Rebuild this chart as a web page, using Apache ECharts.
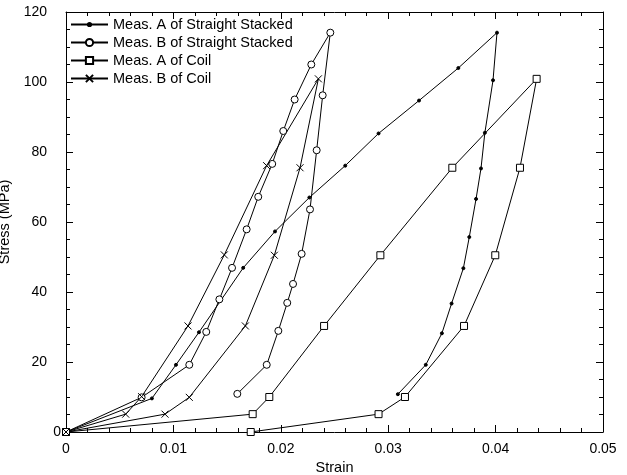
<!DOCTYPE html>
<html lang="en">
  <head>
    <meta charset="UTF-8" />
    <title>Stress vs Strain</title>
    <script src="https://cdn.jsdelivr.net/npm/echarts@6.0.0/dist/echarts.min.js"></script>
  </head>
  <body style="margin: 0">
    <div id="main" style="width: 627px; height: 475px"></div>
    <script type="text/javascript">
      // values
      const seriesNames = [
        "Meas. A of Straight Stacked",
        "Meas. B of Straight Stacked",
        "Meas. A of Coil",
        "Meas. B of Coil",
      ];

      const strainStraightA = [0, 0.008, 0.01024, 0.01238, 0.0165, 0.01946, 0.02266, 0.026, 0.0291, 0.03287, 0.03653, 0.04013,
        0.03976, 0.039, 0.03864, 0.03818, 0.03755, 0.037, 0.0359, 0.035, 0.0335, 0.0309];
      const stressStraightA = [0, 9.6, 19.2, 28.5, 46.9, 57.3, 67, 76.1, 85.3, 94.7, 104, 114.1,
        100.5, 85.5, 75.3, 66.6, 55.7, 46.8, 36.7, 28.2, 19.2, 10.8];

      const strainStraightB = [0, 0.00704, 0.01148, 0.01306, 0.01428, 0.01546, 0.01682, 0.0179, 0.0192, 0.02023, 0.02129, 0.02284, 0.02461,
        0.0239, 0.02334, 0.02272, 0.02194, 0.02114, 0.0206, 0.01977, 0.01869, 0.01595];
      const stressStraightB = [0, 9.9, 19.2, 28.6, 37.9, 46.9, 57.9, 67.2, 76.6, 86, 95, 105, 114.1,
        96.2, 80.5, 63.6, 50.9, 42.3, 36.9, 28.9, 19.2, 10.9];

      const strainCoilA = [0, 0.01738, 0.01893, 0.02403, 0.02927, 0.03597, 0.04382,
        0.04227, 0.03997, 0.03706, 0.03156, 0.0291, 0.0172];
      const stressCoilA = [0, 5.1, 10, 30.3, 50.5, 75.5, 100.9,
        75.5, 50.5, 30.3, 10, 5.1, 0];

      const strainCoilB = [0, 0.00556, 0.00704, 0.01136, 0.01474, 0.01868, 0.0235,
        0.02179, 0.0194, 0.0167, 0.01148, 0.00922, 0];
      const stressCoilB = [0, 5.1, 10.1, 30.3, 50.6, 76.1, 100.9,
        75.5, 50.5, 30.3, 9.9, 5.1, 0];

      const xTicks = [0, 0.01, 0.02, 0.03, 0.04, 0.05];
      const yTicks = [0, 20, 40, 60, 80, 100, 120];

      const font = "Liberation Sans";
      const pairs = (xs, ys) => xs.map((x, i) => [x, ys[i]]);
      const crossPath = "path://M0,0L10,10M10,0L0,10";

      let myChart = echarts.init(document.getElementById("main"));

      const tickStyle = { color: "#000", width: 1 };

      const xAxisBase = {
        type: "value",
        min: xTicks[0],
        max: xTicks[xTicks.length - 1],
        interval: 0.01,
        axisLine: { show: true, onZero: false, lineStyle: tickStyle },
        axisTick: { show: true, inside: true, length: 7, lineStyle: tickStyle },
        minorTick: { show: true, splitNumber: 5, length: 4, lineStyle: tickStyle },
        splitLine: { show: false },
      };
      const yAxisBase = {
        type: "value",
        min: yTicks[0],
        max: yTicks[yTicks.length - 1],
        interval: 20,
        axisLine: { show: true, onZero: false, lineStyle: tickStyle },
        axisTick: { show: true, inside: true, length: 7, lineStyle: tickStyle },
        minorTick: { show: true, splitNumber: 4, length: 4, lineStyle: tickStyle },
        splitLine: { show: false },
      };

      const lineSeries = (name, xs, ys, symbol, size, fill) => ({
        name: name,
        type: "line",
        data: pairs(xs, ys),
        symbol: symbol,
        symbolSize: size,
        showAllSymbol: true,
        lineStyle: { color: "#000", width: 1 },
        itemStyle: { color: fill, borderColor: "#000", borderWidth: 1 },
      });

      const legendText = { fontFamily: font, fontSize: 14.5, color: "#000" };

      let options = {
        animation: false,
        textStyle: { fontFamily: font, color: "#000" },
        grid: { left: 66, right: 24, top: 12, bottom: 43, outerBoundsMode: "none" },
        legend: [
          {
            orient: "vertical",
            left: 65,
            top: 12,
            itemWidth: 37,
            itemHeight: 4,
            itemGap: 3,
            textStyle: legendText,
            data: [seriesNames[0]],
          },
          {
            orient: "vertical",
            left: 65,
            top: 30,
            itemWidth: 37,
            itemHeight: 9,
            itemGap: 3,
            textStyle: legendText,
            data: seriesNames.slice(1),
          },
        ],
        xAxis: [
          Object.assign({}, xAxisBase, {
            position: "bottom",
            name: "Strain",
            nameLocation: "middle",
            nameGap: 26,
            nameTextStyle: { fontFamily: font, fontSize: 14.5, color: "#000" },
            axisLabel: { fontFamily: font, fontSize: 14, color: "#000", margin: 10 },
          }),
          Object.assign({}, xAxisBase, {
            position: "top",
            axisLabel: { show: false },
          }),
        ],
        yAxis: [
          Object.assign({}, yAxisBase, {
            position: "left",
            name: "Stress (MPa)",
            nameLocation: "middle",
            nameGap: 44,
            nameTextStyle: { fontFamily: font, fontSize: 14.5, color: "#000" },
            axisLabel: {
              fontFamily: font,
              fontSize: 14,
              color: "#000",
              margin: 5,
              formatter: (v) => (v === 0 ? "0" : "{n|" + v + "}"),
              rich: { n: { fontFamily: font, fontSize: 14, color: "#000", padding: [0, 14, 0, 0] } },
            },
          }),
          Object.assign({}, yAxisBase, {
            position: "right",
            axisLabel: { show: false },
          }),
        ],
        series: [
          lineSeries(seriesNames[0], strainStraightA, stressStraightA, "circle", 3, "#000"),
          lineSeries(seriesNames[1], strainStraightB, stressStraightB, "circle", 7, "#fff"),
          lineSeries(seriesNames[2], strainCoilA, stressCoilA, "rect", 7, "#fff"),
          lineSeries(seriesNames[3], strainCoilB, stressCoilB, crossPath, 7, "none"),
        ],
      };

      myChart.setOption(options);
    </script>
  </body>
</html>
